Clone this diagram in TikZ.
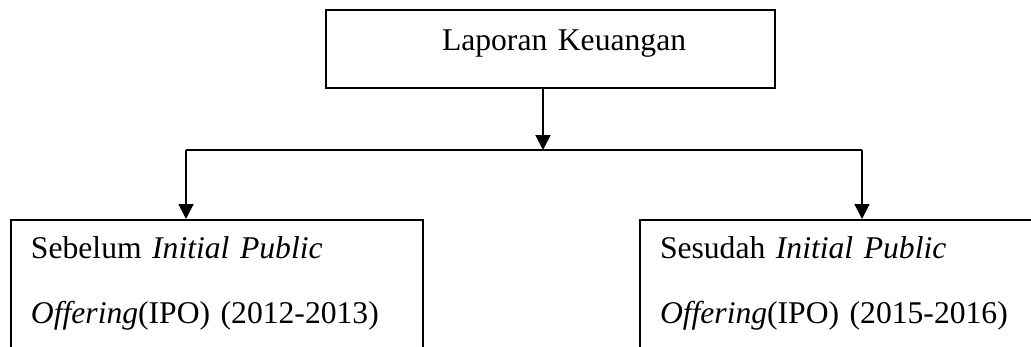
\documentclass[tikz,border=0pt]{standalone}
\usepackage{fontspec}
\setmainfont{Liberation Serif}
\usepackage{tikz}
\usetikzlibrary{arrows.meta,positioning,calc}

\begin{document}
\begin{tikzpicture}[
  x=0.02cm, y=-0.02cm,
  topbox/.style={
    rectangle,
    draw=black,
    line width=1.1pt,
    anchor=north,
    inner xsep=66pt,
    inner ysep=0pt,
    text width=8.98cm-132pt,
    align=left,
    text height=22.8pt,
    text depth=21.6pt,
    font=\fontsize{18pt}{37pt}\selectfont
  },
  ipobox/.style={
    rectangle,
    draw=black,
    line width=1.1pt,
    anchor=north west,
    inner xsep=11.4pt,
    inner ysep=0pt,
    text width=8.24cm-22.8pt,
    align=left,
    text height=22.2pt,
    text depth=69.4pt,
    font=\fontsize{18pt}{37pt}\selectfont
  },
  link/.style={line width=1.1pt, draw=black},
  arrow/.style={-{Triangle[width=8.5pt,length=8.5pt]}, line width=1.1pt, draw=black}
]
\useasboundingbox (0,0) rectangle (1031,346);
\clip (0,0) rectangle (1031,346);

\node[topbox] (lapkeu) at (550.5,9) {\mbox{Laporan Keuangan}};
\node[ipobox] (sebelum) at (10,219) {Sebelum \textit{Initial Public}\\\textit{Offering}(IPO) (2012-2013)};
\node[ipobox] (sesudah) at (639,219) {Sesudah \textit{Initial Public}\\\textit{Offering}(IPO) (2015-2016)};

\coordinate (bus) at (543,150);
\coordinate (busL) at (186,150);
\coordinate (busR) at (862,150);

\draw[arrow] (lapkeu.south -| bus) -- (bus);
\draw[link] (busL) -- (busR);
\draw[arrow] (busL) -- (busL |- sebelum.north);
\draw[arrow] (busR) -- (busR |- sesudah.north);
\end{tikzpicture}
\end{document}
